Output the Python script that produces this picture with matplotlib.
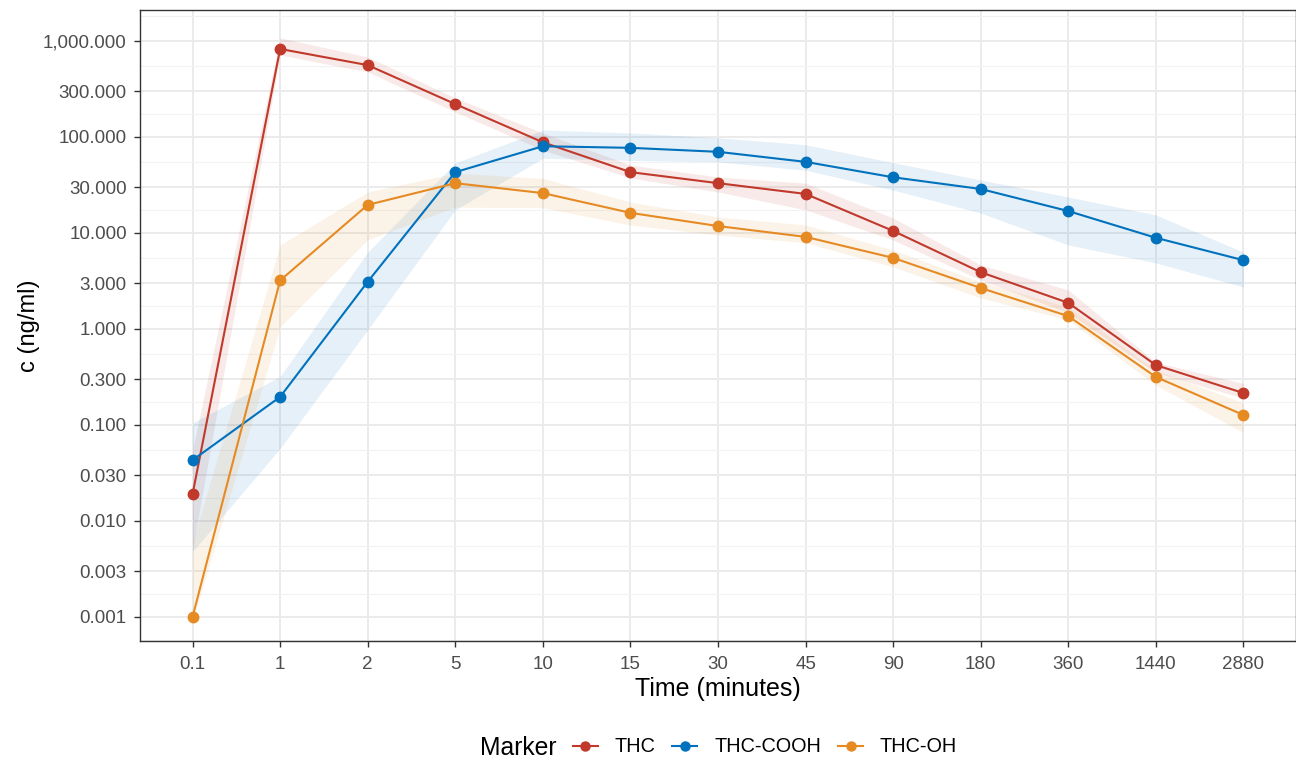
import numpy as np
import matplotlib
matplotlib.use("Agg")
import matplotlib.pyplot as plt
from matplotlib.lines import Line2D
from matplotlib.ticker import FixedLocator, FuncFormatter

plt.rcParams['font.family'] = ['Liberation Sans', 'DejaVu Sans']

# data
times = ['0.1', '1', '2', '5', '10', '15', '30', '45', '90', '180', '360', '1440', '2880']

thc = [0.019, 825, 560, 220, 88, 43, 33, 25.5, 10.5, 3.9, 1.87, 0.42, 0.215]
thc_lo = [0.005, 714, 475, 182, 73, 37.4, 26.7, 17.4, 8.45, 3.24, 1.47, 0.35, 0.19]
thc_hi = [0.055, 1075, 681, 255, 110, 51, 38.3, 33, 14.3, 4.64, 2.55, 0.45, 0.27]

cooh = [0.043, 0.196, 3.1, 43, 80, 77, 70, 55, 38, 28.7, 16.9, 8.9, 5.2]
cooh_lo = [0.0048, 0.057, 0.98, 17.4, 60, 57, 55, 45, 28, 16.1, 7.5, 4.87, 2.74]
cooh_hi = [0.105, 0.32, 6.3, 53.6, 118, 110, 98, 83, 54, 35.6, 23.7, 15.4, 6.3]

oh = [0.001, 3.2, 19.6, 33, 26, 16.2, 11.8, 9.1, 5.5, 2.67, 1.36, 0.316, 0.127]
oh_lo = [0.0009, 1.05, 8.5, 18.6, 18.3, 12.1, 9.5, 7.9, 4.43, 2.1, 1.24, 0.26, 0.083]
oh_hi = [0.006, 7.5, 26.7, 42, 37, 21, 14.7, 12.1, 6.65, 3.09, 1.7, 0.37, 0.17]

names = ['THC', 'THC-COOH', 'THC-OH']
colors = ['#C0392B', '#0072BD', '#E68A24']
y_breaks = [0.001, 0.003, 0.01, 0.03, 0.1, 0.3, 1, 3, 10, 30, 100, 300, 1000]

series = [(thc, thc_lo, thc_hi), (cooh, cooh_lo, cooh_hi), (oh, oh_lo, oh_hi)]

fig = plt.figure(figsize=(12.96, 7.58), dpi=100)
ax = fig.add_axes([140/1296, 117/758, 1156/1296, 631/758])

x = np.arange(len(times))

for (v, lo, hi), c in zip(series, colors):
    ax.fill_between(x, lo, hi, color=c, alpha=0.1, linewidth=0, zorder=2)
for (v, lo, hi), c in zip(series, colors):
    ax.plot(x, v, color=c, lw=1.5, zorder=3)
    ax.plot(x, v, 'o', color=c, ms=7.5, zorder=4)

ax.set_yscale('log')
ax.set_ylim(0.000562, 2100)
ax.set_xlim(-0.6, 12.6)

# minor grid halfway (in log space) between the breaks
lb = np.log10(y_breaks)
ext = np.concatenate([[2*lb[0]-lb[1]], lb, [2*lb[-1]-lb[-2]]])
minor = 10 ** ((ext[:-1] + ext[1:]) / 2)
ax.yaxis.set_major_locator(FixedLocator(y_breaks))
ax.yaxis.set_minor_locator(FixedLocator(minor))
ax.yaxis.set_major_formatter(FuncFormatter(lambda v, p: '{:,.3f}'.format(v)))
ax.yaxis.set_minor_formatter(FuncFormatter(lambda v, p: ''))

ax.set_xticks(x)
ax.set_xticklabels(times)

ax.grid(True, which='major', color='#EBEBEB', lw=1.4, zorder=0)
ax.grid(True, which='minor', axis='y', color='#F2F2F2', lw=0.8, zorder=0)
ax.set_axisbelow(True)

ax.tick_params(axis='both', which='major', labelsize=13.5, labelcolor='#4D4D4D',
               color='#333333', length=4.5, width=1, pad=5)
ax.tick_params(axis='x', which='major', pad=6)
ax.tick_params(axis='y', which='minor', length=0)
for s in ax.spines.values():
    s.set_color('#333333')
    s.set_linewidth(1)

ax.set_xlabel('Time (minutes)', fontsize=18, labelpad=3)
ax.set_ylabel('c (ng/ml)', fontsize=17, labelpad=2)

handles = [Line2D([0], [0], color=c, lw=1.5, marker='o', ms=6.5) for c in colors]
fig.legend(handles, names, loc='center', ncol=3, frameon=False, fontsize=14.3,
           bbox_to_anchor=(765/1296, 1 - 747/758), handlelength=1.26,
           handletextpad=0.85, columnspacing=0.85)
fig.text(557/1296, 1 - 748/758, 'Marker', fontsize=17.8, ha='right', va='center')

fig.savefig('out.png', dpi=100)
